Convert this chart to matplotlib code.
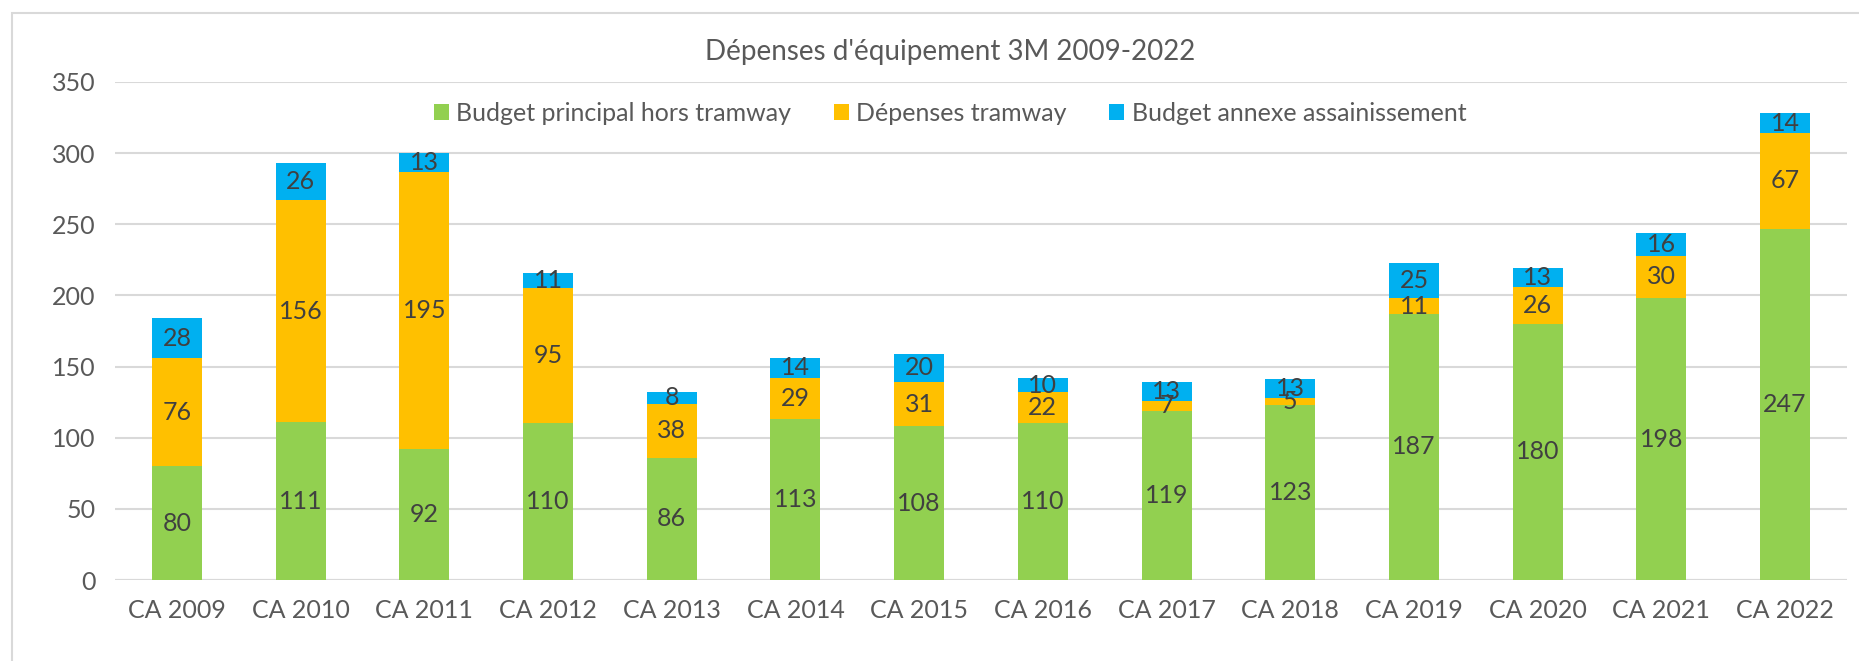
import numpy as np
import matplotlib.pyplot as plt
from matplotlib.patches import Rectangle

plt.rcParams['font.family'] = ['Lato', 'DejaVu Sans']

annees = ['CA 2009', 'CA 2010', 'CA 2011', 'CA 2012', 'CA 2013', 'CA 2014', 'CA 2015',
          'CA 2016', 'CA 2017', 'CA 2018', 'CA 2019', 'CA 2020', 'CA 2021', 'CA 2022']
principal = [80, 111, 92, 110, 86, 113, 108, 110, 119, 123, 187, 180, 198, 247]
tramway = [76, 156, 195, 95, 38, 29, 31, 22, 7, 5, 11, 26, 30, 67]
assainissement = [28, 26, 13, 11, 8, 14, 20, 10, 13, 13, 25, 13, 16, 14]
noms = ['Budget principal hors tramway', 'Dépenses tramway', 'Budget annexe assainissement']
couleurs = ['#92D050', '#FFC000', '#00B0F0']

gris = '#595959'
fig = plt.figure(figsize=(18.59, 6.61), dpi=100)
ax = fig.add_axes([0.0619, 0.1225, 0.9316, 0.7535])

# cadre du graphique (seuls haut et gauche visibles)
fig.patches.append(Rectangle((12/1859, -0.1), 1.2, 1 - 13/661 + 0.1, transform=fig.transFigure,
                             fill=False, edgecolor='#D9D9D9', linewidth=1.5))

x = np.arange(len(annees))
bas = np.zeros(len(annees))
for vals, nom, c in zip([principal, tramway, assainissement], noms, couleurs):
    vals = np.array(vals)
    ax.bar(x, vals, 0.404, bottom=bas, color=c, label=nom, zorder=3)
    for xi, b, v in zip(x, bas, vals):
        ax.text(xi, b + v / 2, str(v), ha='center', va='center', fontsize=18,
                color='#404040', zorder=4)
    bas = bas + vals

ax.set_xlim(-0.5, len(annees) - 0.5)
ax.set_ylim(0, 350)
ax.set_yticks(range(0, 351, 50))
ax.set_xticks(x)
ax.set_xticklabels(annees)
ax.tick_params(length=0, labelsize=18, labelcolor=gris)
ax.tick_params(axis='x', pad=14)
ax.tick_params(axis='y', pad=14)
ax.grid(axis='y', color='#D9D9D9', linewidth=1.5, zorder=0)
for s in ax.spines.values():
    s.set_visible(False)
ax.axhline(0, color='#D9D9D9', linewidth=1.5, zorder=2)

fig.text(0.511, 0.921, "Dépenses d'équipement 3M 2009-2022", ha='center', va='center',
         fontsize=20, color=gris)
fig.legend(loc='center', bbox_to_anchor=(0.511, 0.829), ncol=3, frameon=False,
           fontsize=18, labelcolor=gris, handlelength=0.6, handleheight=0.6,
           handletextpad=0.3, columnspacing=1.7)

fig.savefig('out.png', dpi=100)
